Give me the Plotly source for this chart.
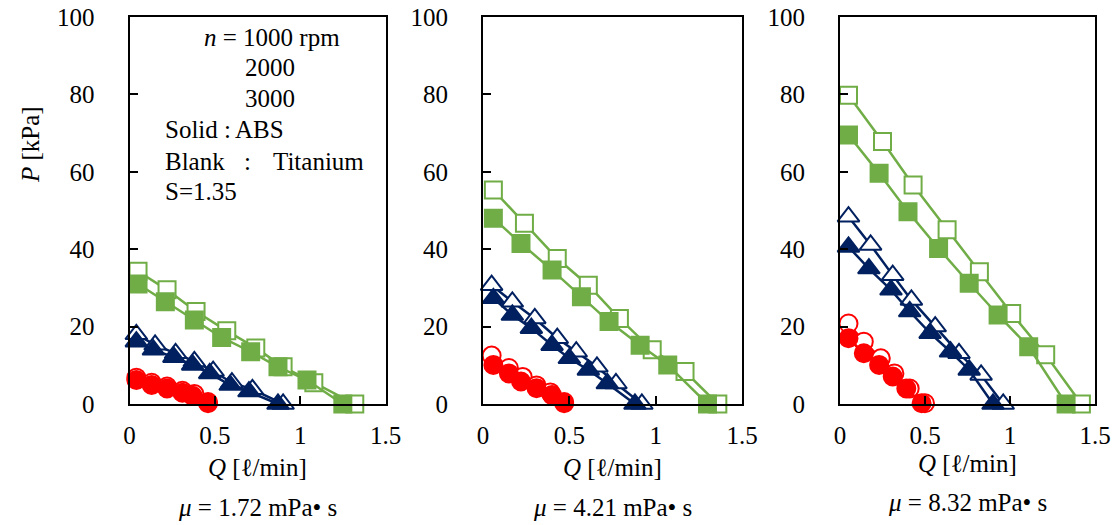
import plotly.graph_objects as go

# ---------------- data ----------------
# Panel 1 (mu = 1.72 mPa s)
p1_q_sq_blank = [0.05, 0.22, 0.39, 0.57, 0.74, 0.90, 1.08, 1.32]
p1_p_sq_blank = [34.3, 29.5, 23.9, 18.9, 14.5, 9.6, 5.5, 0.0]
p1_q_sq_solid = [0.05, 0.21, 0.38, 0.54, 0.71, 0.87, 1.04, 1.25]
p1_p_sq_solid = [31.0, 26.4, 21.7, 17.2, 13.5, 9.6, 6.2, 0.0]
p1_q_tr_blank = [0.04, 0.15, 0.27, 0.38, 0.49, 0.60, 0.72, 0.90]
p1_p_tr_blank = [18.0, 15.3, 13.1, 11.0, 8.5, 5.5, 3.8, 0.0]
p1_q_tr_solid = [0.04, 0.14, 0.26, 0.37, 0.47, 0.59, 0.70, 0.87]
p1_p_tr_solid = [16.1, 14.0, 12.1, 10.1, 7.9, 4.9, 3.2, 0.0]
p1_q_ci_blank = [0.04, 0.13, 0.22, 0.31, 0.38, 0.46]
p1_p_ci_blank = [6.8, 5.5, 4.5, 3.4, 2.6, 0.5]
p1_q_ci_solid = [0.04, 0.13, 0.22, 0.31, 0.37, 0.46]
p1_p_ci_solid = [6.2, 4.9, 4.0, 2.9, 2.1, 0.2]

# Panel 2 (mu = 4.21 mPa s)
p2_q_sq_blank = [0.06, 0.24, 0.43, 0.61, 0.79, 0.98, 1.17, 1.36]
p2_p_sq_blank = [55.3, 46.7, 37.6, 30.7, 22.1, 14.0, 8.4, 0.0]
p2_q_sq_solid = [0.06, 0.22, 0.40, 0.57, 0.73, 0.91, 1.07, 1.30]
p2_p_sq_solid = [48.0, 41.5, 34.6, 27.7, 21.3, 15.2, 10.1, 0.0]
p2_q_tr_blank = [0.05, 0.17, 0.30, 0.43, 0.54, 0.66, 0.77, 0.92]
p2_p_tr_blank = [30.7, 26.4, 22.1, 17.0, 13.5, 9.6, 5.3, 0.0]
p2_q_tr_solid = [0.06, 0.17, 0.28, 0.40, 0.50, 0.61, 0.72, 0.88]
p2_p_tr_solid = [27.3, 23.0, 19.6, 15.2, 11.8, 8.8, 5.3, 0.0]
p2_q_ci_blank = [0.05, 0.15, 0.23, 0.31, 0.39, 0.47]
p2_p_ci_blank = [12.5, 9.3, 7.0, 4.8, 3.0, 0.5]
p2_q_ci_solid = [0.06, 0.15, 0.22, 0.31, 0.40, 0.47]
p2_p_ci_solid = [10.1, 7.9, 5.8, 4.1, 2.3, 0.2]

# Panel 3 (mu = 8.32 mPa s)
p3_q_sq_blank = [0.05, 0.25, 0.43, 0.63, 0.82, 1.01, 1.21, 1.42]
p3_p_sq_blank = [79.8, 67.8, 56.6, 45.0, 34.2, 23.4, 12.7, 0.0]
p3_q_sq_solid = [0.05, 0.23, 0.40, 0.58, 0.76, 0.93, 1.11, 1.33]
p3_p_sq_solid = [69.5, 59.6, 49.7, 40.2, 31.2, 23.0, 14.8, 0.0]
p3_q_tr_blank = [0.05, 0.18, 0.31, 0.42, 0.56, 0.70, 0.83, 0.96]
p3_p_tr_blank = [48.4, 41.1, 33.3, 26.9, 20.0, 13.1, 7.5, 0.0]
p3_q_tr_solid = [0.05, 0.17, 0.30, 0.41, 0.53, 0.65, 0.76, 0.90]
p3_p_tr_solid = [40.6, 35.0, 29.5, 23.9, 18.3, 13.5, 8.8, 0.0]
p3_q_ci_blank = [0.05, 0.14, 0.24, 0.32, 0.41, 0.50]
p3_p_ci_blank = [20.8, 16.1, 11.8, 7.9, 4.0, 0.2]
p3_q_ci_solid = [0.05, 0.14, 0.23, 0.31, 0.39, 0.48]
p3_p_ci_solid = [17.0, 13.1, 10.1, 7.1, 4.0, 0.2]

x_tickvals = [0, 0.5, 1, 1.5]
x_ticktext = ["0", "0.5", "1", "1.5"]
y_tickvals = [0, 20, 40, 60, 80, 100]
viscosity_labels = ["1.72", "4.21", "8.32"]

# ---------------- styling ----------------
GREEN = "#70AD47"
NAVY = "#002060"
RED = "#FF0000"
FONT = "Liberation Serif, Times New Roman, serif"
FS = 25
OFF = 8                      # page body margin of the html page
W, H = 1120 - OFF, 525 - OFF

panels = [
    dict(sq_b=(p1_q_sq_blank, p1_p_sq_blank), sq_s=(p1_q_sq_solid, p1_p_sq_solid),
         tr_b=(p1_q_tr_blank, p1_p_tr_blank), tr_s=(p1_q_tr_solid, p1_p_tr_solid),
         ci_b=(p1_q_ci_blank, p1_p_ci_blank), ci_s=(p1_q_ci_solid, p1_p_ci_solid)),
    dict(sq_b=(p2_q_sq_blank, p2_p_sq_blank), sq_s=(p2_q_sq_solid, p2_p_sq_solid),
         tr_b=(p2_q_tr_blank, p2_p_tr_blank), tr_s=(p2_q_tr_solid, p2_p_tr_solid),
         ci_b=(p2_q_ci_blank, p2_p_ci_blank), ci_s=(p2_q_ci_solid, p2_p_ci_solid)),
    dict(sq_b=(p3_q_sq_blank, p3_p_sq_blank), sq_s=(p3_q_sq_solid, p3_p_sq_solid),
         tr_b=(p3_q_tr_blank, p3_p_tr_blank), tr_s=(p3_q_tr_solid, p3_p_tr_solid),
         ci_b=(p3_q_ci_blank, p3_p_ci_blank), ci_s=(p3_q_ci_solid, p3_p_ci_solid)),
]

# screen-pixel boxes of plot areas
x_px = [(129.5, 385.5), (483, 742), (840, 1095)]
y_px = (17, 404)

def px(sx):
    return (sx - OFF) / W

def py(sy):
    return 1 - (sy - OFF) / H

fig = go.Figure()

def add(q, p, color, symbol, size, filled, xa, ya):
    fig.add_trace(go.Scatter(
        x=q, y=p, mode="lines+markers", xaxis=xa, yaxis=ya,
        line=dict(color=color, width=2.5),
        marker=dict(symbol=symbol, size=size,
                    color=color if filled else "white",
                    line=dict(color=color, width=2)),
        cliponaxis=False, showlegend=False, hoverinfo="skip"))

layout_axes = {}
for i, pn in enumerate(panels):
    xa = "x" if i == 0 else f"x{i+1}"
    ya = "y" if i == 0 else f"y{i+1}"
    add(*pn["sq_b"], GREEN, "square", 17, False, xa, ya)
    add(*pn["sq_s"], GREEN, "square", 17, True, xa, ya)
    add(*pn["tr_b"], NAVY, "triangle-up", 19, False, xa, ya)
    add(*pn["tr_s"], NAVY, "triangle-up", 19, True, xa, ya)
    add(*pn["ci_b"], RED, "circle", 18, False, xa, ya)
    add(*pn["ci_s"], RED, "circle", 18, True, xa, ya)

    xk = "xaxis" if i == 0 else f"xaxis{i+1}"
    yk = "yaxis" if i == 0 else f"yaxis{i+1}"
    l, r = x_px[i]
    layout_axes[xk] = dict(
        domain=[px(l), px(r)], anchor=ya, range=[0, 1.5], automargin=False,
        tickvals=x_tickvals, ticktext=x_ticktext, ticklabeloverflow="allow",
        ticks="inside", ticklen=8, tickwidth=2, tickcolor="black",
        showline=True, linewidth=2, linecolor="black", mirror=True,
        showgrid=False, zeroline=False, ticklabelstandoff=8,
        tickfont=dict(family=FONT, size=FS, color="black"))
    layout_axes[yk] = dict(
        domain=[py(y_px[1]), py(y_px[0])], anchor=xa, range=[0, 100],
        automargin=False, ticklabeloverflow="allow",
        tickvals=y_tickvals, ticks="inside", ticklen=8, tickwidth=2, tickcolor="black",
        showline=True, linewidth=2, linecolor="black", mirror=True,
        showgrid=False, zeroline=False, ticklabelstandoff=28,
        tickfont=dict(family=FONT, size=FS, color="black"))

annotations = []

def ann(text, x, y, xanchor="center", angle=0, size=FS):
    annotations.append(dict(text=text, x=px(x), y=py(y), xref="paper", yref="paper",
                            xanchor=xanchor, yanchor="middle", showarrow=False,
                            textangle=angle, font=dict(family=FONT, size=size, color="black")))

q_y = [467, 467, 463]
mu_y = [507, 507, 502]
for i in range(3):
    cx = (x_px[i][0] + x_px[i][1]) / 2
    ann("<i>Q</i> [ℓ/min]", cx, q_y[i])
    ann(f"<i>μ</i> = {viscosity_labels[i]} mPa• s", cx, mu_y[i])

ann("<i>P</i> [kPa]", 30, 145, angle=-90)

# legend-like text in panel 1
ann("<i>n</i> = 1000 rpm", 202, 37, xanchor="left")
ann("2000", 243, 67, xanchor="left")
ann("3000", 243, 98, xanchor="left")
ann("Solid", 163, 130, xanchor="left")
ann(":", 222, 130, xanchor="left")
ann("ABS", 233, 130, xanchor="left")
ann("Blank", 163, 161, xanchor="left")
ann(":", 242, 161, xanchor="left")
ann("Titanium", 271, 161, xanchor="left")
ann("S=1.35", 163, 192, xanchor="left")

fig.update_layout(
    width=W, height=H, margin=dict(l=0, r=0, t=0, b=0, autoexpand=False),
    paper_bgcolor="white", plot_bgcolor="white",
    annotations=annotations, showlegend=False, **layout_axes)

fig.write_html("out.html")
